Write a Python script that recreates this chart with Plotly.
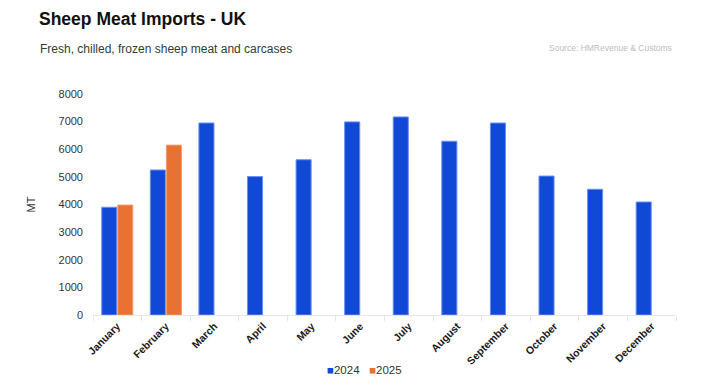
import plotly.graph_objects as go

months = ["January", "February", "March", "April", "May", "June", "July",
          "August", "September", "October", "November", "December"]
vals_2024 = [3900, 5250, 6950, 5010, 5620, 6990, 7170, 6290, 6950, 5030, 4550, 4090]
months_2025 = ["January", "February"]
vals_2025 = [3980, 6150]
y_ticks = [0, 1000, 2000, 3000, 4000, 5000, 6000, 7000, 8000]

BLUE = "#1049D5"
ORANGE = "#E97132"
FONT = "Liberation Sans, Arial, sans-serif"

# page body has an 8px margin; shift everything up/left by 8
OFF = 8
L, R_EDGE, T, B_EDGE = 92.5 - OFF, 675.7 - OFF, 94 - OFF, 315.3 - OFF
PW, PH = R_EDGE - L, B_EDGE - T

def px(x):
    return (x - OFF - L) / PW

def py(y):
    return (B_EDGE - (y - OFF)) / PH

fig = go.Figure()
fig.add_trace(go.Bar(x=months, y=vals_2024, name="2024", showlegend=False,
                     marker=dict(color=BLUE, line=dict(color="#6A8FF0", width=1))))
fig.add_trace(go.Bar(x=months_2025, y=vals_2025, name="2025", showlegend=False,
                     marker=dict(color=ORANGE, line=dict(color="#F2A070", width=1))))

fig.update_layout(
    width=723, height=388,
    margin=dict(l=L, r=723 - R_EDGE, t=T, b=388 - B_EDGE),
    paper_bgcolor="white", plot_bgcolor="white",
    barmode="group", bargap=0.34, bargroupgap=0.06,
    font=dict(family=FONT, color="#333333"),
    showlegend=False,
    xaxis=dict(categoryorder="array", categoryarray=months,
               tickangle=-45, tickfont=dict(size=10.5, color="#1a1a1a", weight="bold"),
               showline=True, linecolor="#E6E6E6", linewidth=1,
               ticks="outside", tickson="boundaries", ticklen=5, tickcolor="#E6E6E6",
               showgrid=False),
    yaxis=dict(range=[0, 8000], tickvals=y_ticks, showgrid=False, zeroline=False,
               tickfont=dict(size=11, color="#333333"), ticks="", ticklabelstandoff=9,
               title=dict(text="MT", font=dict(size=11, color="#333333"), standoff=20)),
    annotations=[
        dict(text="<b>Sheep Meat Imports - UK</b>", xref="paper", yref="paper",
             x=px(36.5), xanchor="left", y=py(19), yanchor="middle", showarrow=False,
             font=dict(size=17.5, color="#111111", family=FONT)),
        dict(text="Fresh, chilled, frozen sheep meat and carcases", xref="paper", yref="paper",
             x=px(37), xanchor="left", y=py(48.5), yanchor="middle", showarrow=False,
             font=dict(size=12, color="#2F3D37", family=FONT)),
        dict(text="Source: HMRevenue & Customs", xref="paper", yref="paper",
             x=px(674), xanchor="right", y=py(48), yanchor="middle", showarrow=False,
             font=dict(size=8.5, color="#BDBDBD", family=FONT)),
        dict(text=(f"<span style='color:{BLUE}'>■</span>2024&nbsp;&nbsp;&nbsp;"
                   f"<span style='color:{ORANGE}'>■</span>2025"),
             xref="paper", yref="paper",
             x=px(364), xanchor="center", y=py(370), yanchor="middle", showarrow=False,
             font=dict(size=11.5, color="#333333", family=FONT)),
    ],
)

fig.write_html("out.html")
